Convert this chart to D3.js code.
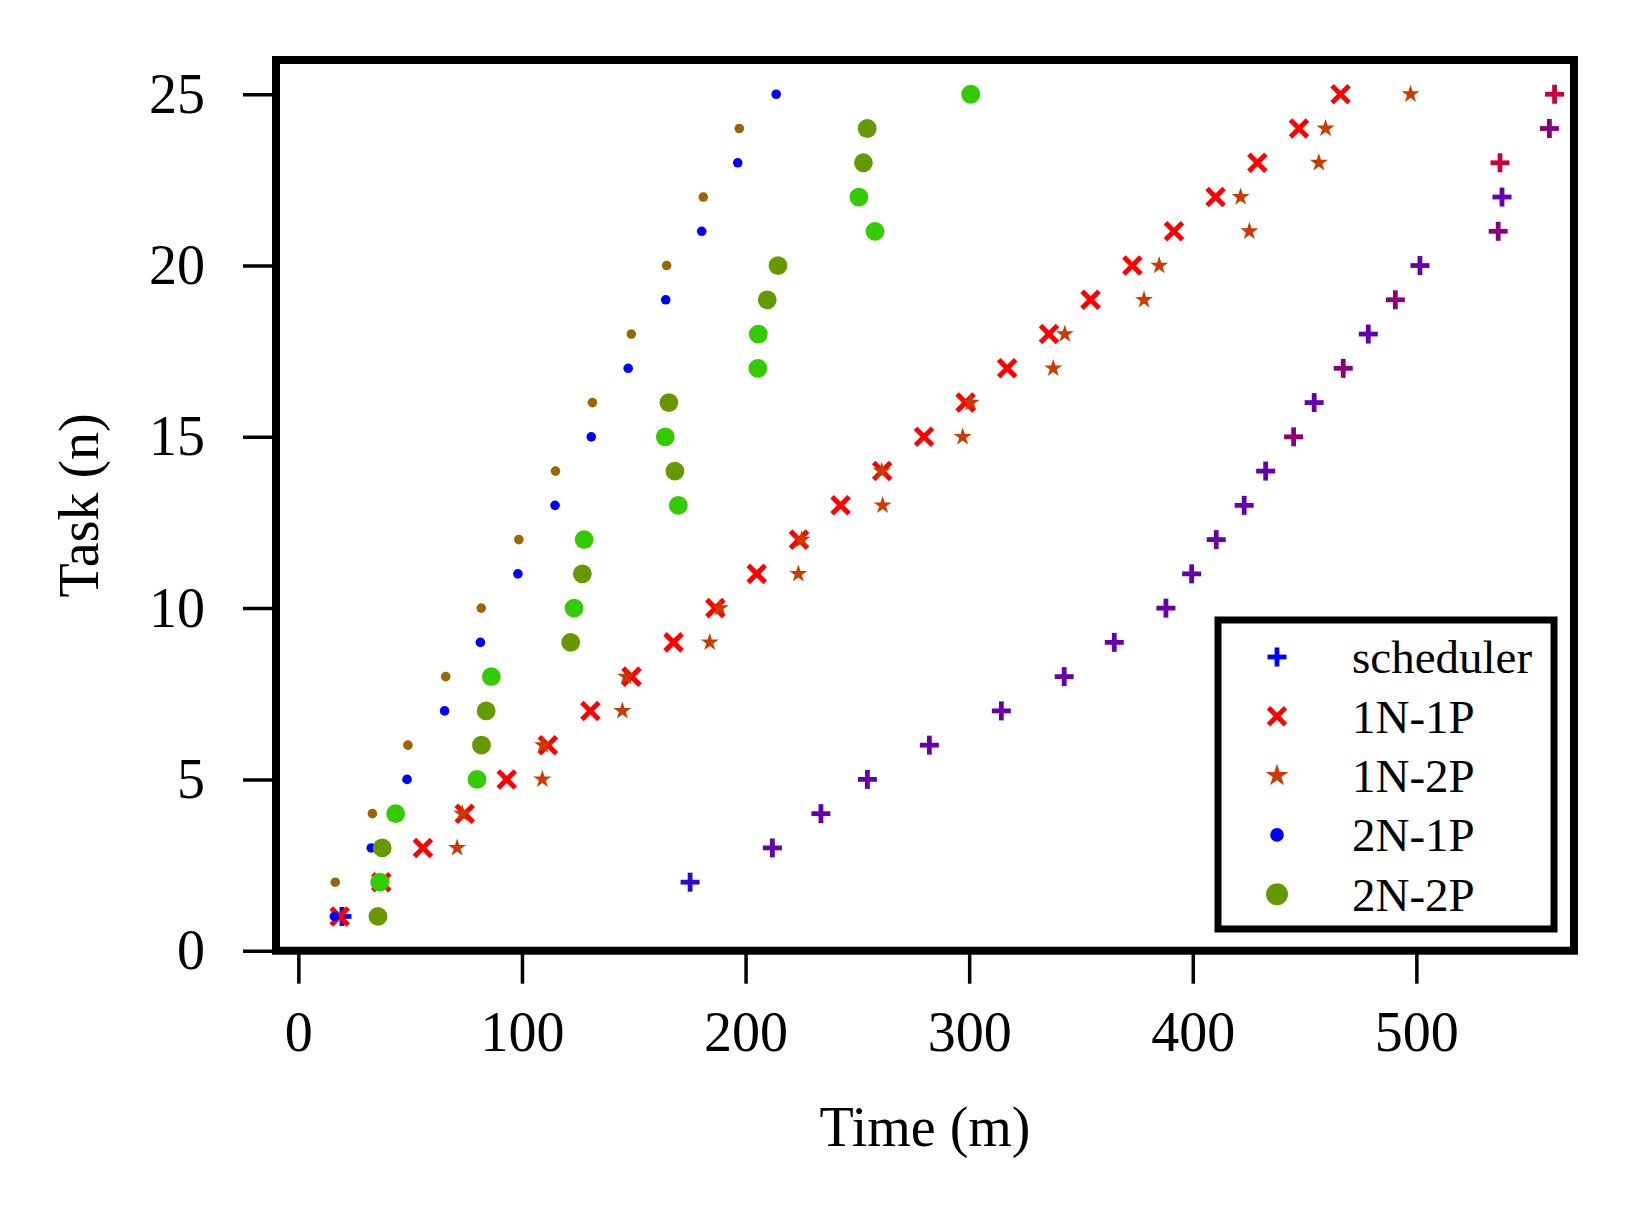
<!DOCTYPE html>
<html lang="en">
<head>
<meta charset="UTF-8"/>
<title>Task completion over time</title>
<script src="https://d3js.org/d3.v7.min.js"></script>
<style>
  body { margin: 0; background: #fff; }
  text { font-family: "Liberation Serif", "DejaVu Serif", serif; fill: #000; }
</style>
</head>
<body>
<script>
var w = 1634, h = 1212;

// task number for every point
var tasks = [1,2,3,4,5,6,7,8,9,10,11,12,13,14,15,16,17,18,19,20,21,22,23,24,25];

// finish time (m) for each task, per configuration
var scheduler = [19.5,175.2,212,233.7,254.5,282.2,314.4,342.5,364.9,388,399.5,410.5,423,432.6,445.1,454.3,467.3,478.5,490.6,501.6,536.6,538.3,537.4,559.5,561.8];
var oneNoneP  = [18.5,37.1,55.7,74.4,93.2,111.6,130.6,149,167.8,186.5,205,223.9,242.5,261.1,279.8,298.4,317,335.7,354.3,373,391.6,410.2,428.9,447.5,466.1];
var oneNtwoP  = [35.5,37,71,73.3,109.1,109.4,144.9,146.6,184,188.5,223.6,225.1,261.3,260.9,297.1,300.7,337.6,342.8,378.2,385,425.3,421.4,456.4,459.4,497.4];
var twoNoneP  = [16.1,16.5,32.6,33.1,48.6,49,65.4,65.9,81.4,81.8,98.2,98.6,114.8,115,131,131.5,147.5,148.9,164.3,164.7,180.4,181.1,196.5,197.2,213.7];
var twoNtwoP  = [35.6,36.4,37.5,43.5,79.9,81.9,84,86.3,121.8,123.3,127,127.8,169.9,168.4,164.1,165.7,205.5,205.7,209.7,214.5,257.9,250.7,252.7,254.4,300.7];

// which node / shade each point belongs to
var schedShade = [0,1,2,2,2,2,2,2,2,2,2,2,2,2,3,2,3,2,3,2,3,2,4,3,4];
var twoNoneNode = [0,1,0,1,0,1,0,1,0,1,0,1,0,1,0,1,0,1,0,1,0,1,0,1,0];
var twoNtwoNode = [1,0,1,0,0,1,1,0,1,0,1,0,0,1,0,1,0,0,1,1,0,0,1,1,0];

var schedColors = ["#0000ff", "#3308cc", "#6600aa", "#8c0077", "#cc0038"];
var oneNColor = "#ff0000";
var starColor = "#cc3a00";
var twoNoneColors = ["#0000ff", "#996600"];
var twoNtwoColors = ["#33cc00", "#669900"];

var legendNames = ["scheduler", "1N-1P", "1N-2P", "2N-1P", "2N-2P"];
var xTicks = [0, 100, 200, 300, 400, 500];
var yTicks = [0, 5, 10, 15, 20, 25];

var padL = 276, padR = 1574, padT = 60, padB = 950.7;

var x = d3.scaleLinear().domain([-10, 570.5]).range([padL, padR]);
var y = d3.scaleLinear().domain([0, 26]).range([padB, padT]);

var svg = d3.select("body").append("svg")
    .attr("width", w)
    .attr("height", h);

svg.append("rect").attr("width", w).attr("height", h).attr("fill", "#fff");

// axes
var xAxis = svg.append("g")
    .attr("transform", "translate(0," + padB + ")")
    .call(d3.axisBottom(x).tickValues(xTicks).tickSize(33).tickPadding(28));
var yAxis = svg.append("g")
    .attr("transform", "translate(" + padL + ",0)")
    .call(d3.axisLeft(y).tickValues(yTicks).tickSize(33).tickPadding(38));

[xAxis, yAxis].forEach(function(a) {
    a.select(".domain").remove();
    a.selectAll(".tick line").attr("stroke", "#000").attr("stroke-width", 3.5);
    a.selectAll(".tick text")
        .style("font-family", '"Liberation Serif", "DejaVu Serif", serif')
        .style("font-size", "56px")
        .attr("fill", "#000");
});

function plus(sel, s, sw) {
    sel.append("line").attr("x1", -s/2).attr("x2", s/2).attr("y1", 0).attr("y2", 0);
    sel.append("line").attr("x1", 0).attr("x2", 0).attr("y1", -s/2).attr("y2", s/2);
    sel.selectAll("line").attr("stroke-width", sw);
}
function cross(sel, s, sw) {
    sel.append("line").attr("x1", -s/2).attr("x2", s/2).attr("y1", -s/2).attr("y2", s/2);
    sel.append("line").attr("x1", -s/2).attr("x2", s/2).attr("y1", s/2).attr("y2", -s/2);
    sel.selectAll("line").attr("stroke-width", sw);
}

var plot = svg.append("g");

// scheduler
plot.selectAll("g.sched")
    .data(scheduler)
    .enter()
    .append("g")
    .attr("class", "sched")
    .attr("transform", function(d, i) { return "translate(" + x(d) + "," + y(tasks[i]) + ")"; })
    .attr("stroke", function(d, i) { return schedColors[schedShade[i]]; })
    .each(function() { plus(d3.select(this), 19, 4.8); });

// 1N-1P
plot.selectAll("g.one1")
    .data(oneNoneP)
    .enter()
    .append("g")
    .attr("class", "one1")
    .attr("transform", function(d, i) { return "translate(" + x(d) + "," + y(tasks[i]) + ")"; })
    .attr("stroke", oneNColor)
    .each(function() { cross(d3.select(this), 17, 5); });

// 1N-2P
var star = d3.symbol().type(d3.symbolStar).size(100);
plot.selectAll("path.one2")
    .data(oneNtwoP)
    .enter()
    .append("path")
    .attr("class", "one2")
    .attr("d", star)
    .attr("transform", function(d, i) { return "translate(" + x(d) + "," + y(tasks[i]) + ")"; })
    .attr("fill", starColor);

// 2N-1P
plot.selectAll("circle.two1")
    .data(twoNoneP)
    .enter()
    .append("circle")
    .attr("class", "two1")
    .attr("cx", function(d) { return x(d); })
    .attr("cy", function(d, i) { return y(tasks[i]); })
    .attr("r", 4.8)
    .attr("fill", function(d, i) { return twoNoneColors[twoNoneNode[i]]; });

// 2N-2P
plot.selectAll("circle.two2")
    .data(twoNtwoP)
    .enter()
    .append("circle")
    .attr("class", "two2")
    .attr("cx", function(d) { return x(d); })
    .attr("cy", function(d, i) { return y(tasks[i]); })
    .attr("r", 9.4)
    .attr("fill", function(d, i) { return twoNtwoColors[twoNtwoNode[i]]; });

// frame
svg.append("rect")
    .attr("x", padL).attr("y", padT)
    .attr("width", padR - padL).attr("height", padB - padT)
    .attr("fill", "none").attr("stroke", "#000").attr("stroke-width", 8);

// axis labels
svg.append("text")
    .attr("x", (padL + padR) / 2).attr("y", 1146)
    .attr("text-anchor", "middle")
    .style("font-size", "56px")
    .text("Time (m)");
svg.append("text")
    .attr("transform", "translate(98," + ((padT + padB) / 2) + ") rotate(-90)")
    .attr("text-anchor", "middle")
    .style("font-size", "56px")
    .text("Task (n)");

// legend
var lg = svg.append("g");
lg.append("rect")
    .attr("x", 1218).attr("y", 620)
    .attr("width", 336).attr("height", 309)
    .attr("fill", "#fff").attr("stroke", "#000").attr("stroke-width", 7);

var rows = lg.selectAll("g.row")
    .data(legendNames)
    .enter()
    .append("g")
    .attr("class", "row")
    .attr("transform", function(d, i) { return "translate(1277," + (657 + i * 59.3) + ")"; });

rows.append("text")
    .attr("x", 75).attr("dy", "0.35em")
    .style("font-size", "47px")
    .text(function(d) { return d; });

rows.each(function(d, i) {
    var g = d3.select(this);
    if (i == 0) {
        var m = g.append("g").attr("stroke", schedColors[0]);
        plus(m, 19, 4.8);
    } else if (i == 1) {
        var m2 = g.append("g").attr("stroke", oneNColor);
        cross(m2, 17, 5);
    } else if (i == 2) {
        g.append("path").attr("d", d3.symbol().type(d3.symbolStar).size(160)).attr("fill", starColor);
    } else if (i == 3) {
        g.append("circle").attr("r", 6.8).attr("fill", twoNoneColors[0]);
    } else {
        g.append("circle").attr("r", 11).attr("fill", twoNtwoColors[1]);
    }
});
</script>
</body>
</html>
